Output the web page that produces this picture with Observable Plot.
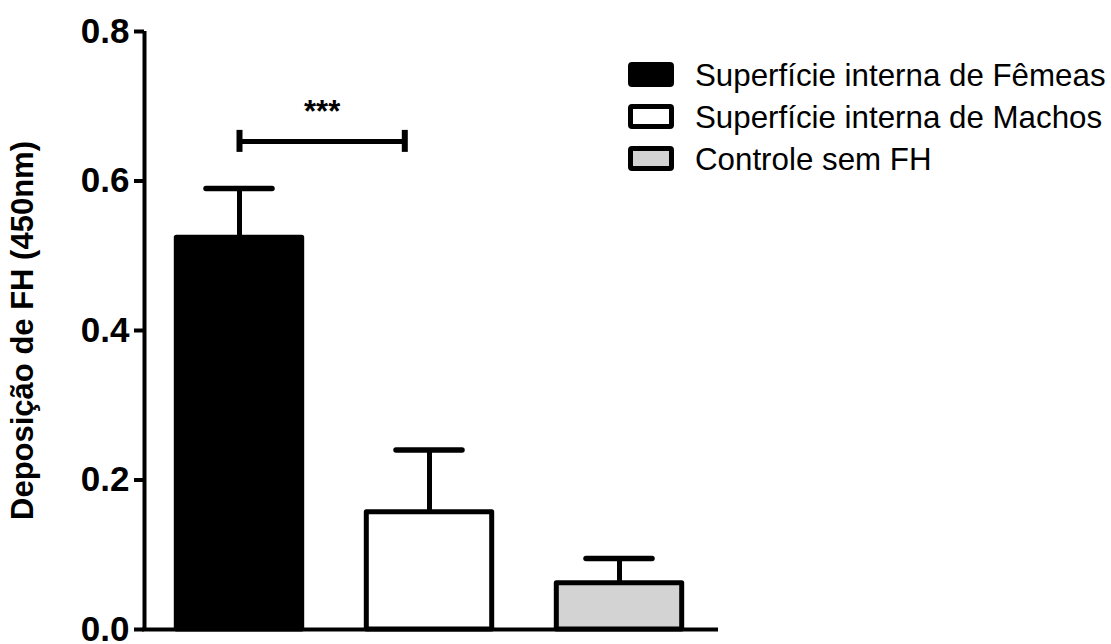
<!DOCTYPE html>
<html>
<head>
<meta charset="utf-8">
<script src="https://cdn.jsdelivr.net/npm/d3@7"></script>
<script src="https://cdn.jsdelivr.net/npm/@observablehq/plot@0.6"></script>
<style>
  html, body { margin: 0; padding: 0; background: white; }
  #wrap { position: relative; width: 1111px; height: 644px; font-family: "Liberation Sans", Arial, sans-serif; }
  #legend { position: absolute; left: 628px; top: 55px; }
  .row { display: flex; align-items: center; height: 42px; font-size: 31.3px; line-height: 42px; color: #000; white-space: nowrap; }
  .sw { box-sizing: border-box; width: 46px; height: 25px; border: 5px solid #000; border-radius: 4px; margin-right: 21px; margin-top: -3px; }
</style>
</head>
<body>
<div id="wrap"><div id="legend"></div></div>
<script>
// ---- data ----
const categories = ["Superfície interna de Fêmeas", "Superfície interna de Machos", "Controle sem FH"];
const means = [0.524, 0.157, 0.062];
const sems = [0.066, 0.083, 0.033];
const yTicks = [0, 0.2, 0.4, 0.6, 0.8];
const yLabel = "Deposição de FH (450nm)";
const sigStart = [0];      // x position (group index) where the bracket starts
const sigEnd = [0.87];     // x position where the bracket ends
const sigY = [0.653];      // bracket height (value units)
const sigLabel = ["***"];

// ---- styles ----
const fillColors = ["#000000", "#ffffff", "#d3d3d3"];
const halfBar = 0.33;

const rows = categories.map((c, i) => ({category: c, idx: i, mean: means[i], sem: sems[i], top: means[i] + sems[i]}));
const sig = sigStart.map((s, i) => ({x1: s, x2: sigEnd[i], y: sigY[i], label: sigLabel[i]}));

const chart = Plot.plot({
  width: 1111,
  height: 644,
  marginTop: 31,
  marginBottom: 15,
  marginLeft: 144,
  marginRight: 397,
  style: {fontFamily: "Liberation Sans, Arial, sans-serif", background: "white", color: "black"},
  x: {domain: [-0.5, 2.5], axis: null},
  y: {domain: [0, 0.8], axis: null},
  color: {domain: categories, range: fillColors},
  marks: [
    // y axis
    Plot.axisY({ticks: yTicks, tickFormat: d3.format(".1f"), tickSize: 10, tickPadding: 5,
                strokeWidth: 4, fontSize: 35, fontWeight: "bold", label: null, stroke: "black", fill: "black"}),
    Plot.ruleX([-0.5], {stroke: "black", strokeWidth: 4, insetBottom: -2}),
    Plot.ruleY([0], {stroke: "black", strokeWidth: 4, insetLeft: -2, insetRight: -4}),
    // error bars (stems + caps)
    Plot.ruleX(rows, {x: "idx", y1: "mean", y2: "top", stroke: "black", strokeWidth: 5}),
    Plot.ruleY(rows, {y: "top", x1: "idx", x2: "idx", insetLeft: -33, insetRight: -33, stroke: "black", strokeWidth: 5.5, strokeLinecap: "round"}),
    // bars
    Plot.rectY(rows, {x1: d => d.idx - halfBar, x2: d => d.idx + halfBar, y1: 0, y2: "mean",
                      fill: "category", stroke: "black", strokeWidth: 5, strokeLinejoin: "round"}),
    // significance bracket
    Plot.ruleY(sig, {y: "y", x1: "x1", x2: "x2", stroke: "black", strokeWidth: 5}),
    Plot.ruleX(sig, {x: "x1", y1: "y", y2: "y", insetTop: -11, insetBottom: -11, stroke: "black", strokeWidth: 6}),
    Plot.ruleX(sig, {x: "x2", y1: "y", y2: "y", insetTop: -11, insetBottom: -11, stroke: "black", strokeWidth: 6}),
    Plot.text(sig, {x: d => (d.x1 + d.x2) / 2, y: "y", text: "label", dy: -19, lineAnchor: "bottom",
                    fontSize: 31, fontWeight: "bold", fill: "black"}),
    // y label
    Plot.text([yLabel], {text: d => d, frameAnchor: "left", textAnchor: "middle", dx: -121, rotate: -90,
                         fontSize: 31, fontWeight: "bold", fill: "black"})
  ]
});
document.getElementById("wrap").prepend(chart);

// legend
const legend = document.getElementById("legend");
categories.forEach((c, i) => {
  const row = document.createElement("div");
  row.className = "row";
  const sw = document.createElement("div");
  sw.className = "sw";
  sw.style.background = fillColors[i];
  const t = document.createElement("span");
  t.textContent = c;
  row.appendChild(sw);
  row.appendChild(t);
  legend.appendChild(row);
});
</script>
</body>
</html>
